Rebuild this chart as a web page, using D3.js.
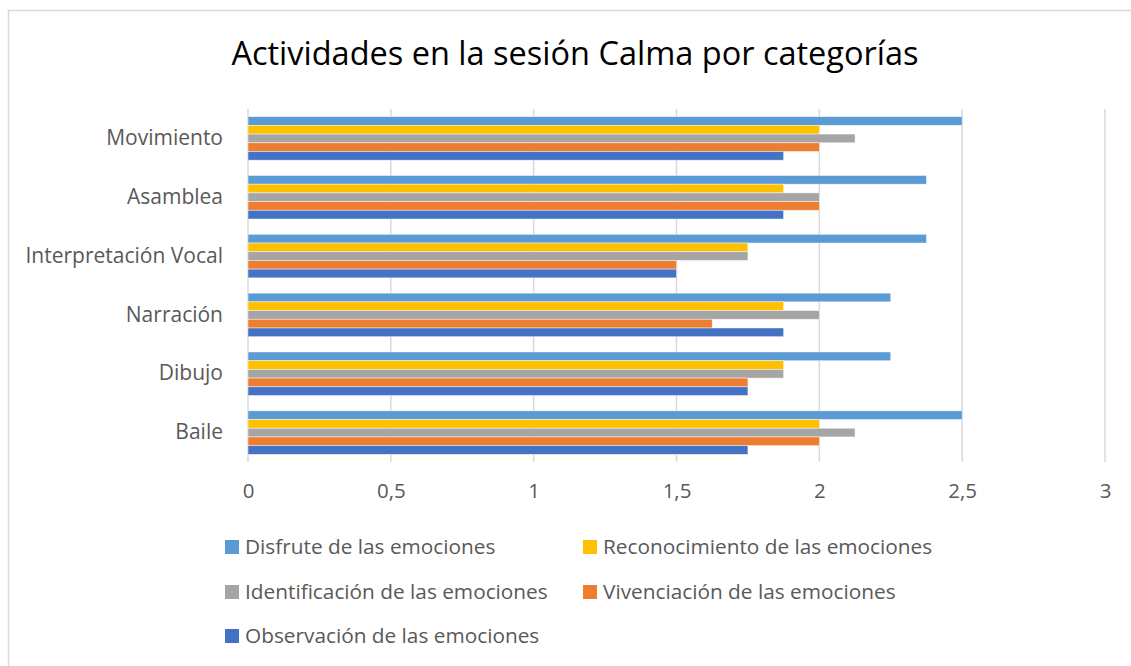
<!DOCTYPE html>
<html>
<head>
<meta charset="utf-8">
<script src="https://cdn.jsdelivr.net/npm/d3@7"></script>
<style>
  body { margin: 0; background: #fff; }
  svg { display: block; font-family: "Open Sans", sans-serif; }
</style>
</head>
<body>
<div id="chart"></div>
<script>
const width = 1131;
const height = 666;

const categories = ["Movimiento", "Asamblea", "Interpretación Vocal", "Narración", "Dibujo", "Baile"];
const seriesNames = [
  "Disfrute de las emociones",
  "Reconocimiento de las emociones",
  "Identificación de las emociones",
  "Vivenciación de las emociones",
  "Observación de las emociones",
];
const disfrute = [2.5, 2.375, 2.375, 2.25, 2.25, 2.5];
const reconocimiento = [2, 1.875, 1.75, 1.875, 1.875, 2];
const identificacion = [2.125, 2, 1.75, 2, 1.875, 2.125];
const vivenciacion = [2, 2, 1.5, 1.625, 1.75, 2];
const observacion = [1.875, 1.875, 1.5, 1.875, 1.75, 1.75];
const xTicks = [0, 0.5, 1, 1.5, 2, 2.5, 3];

const seriesValues = [disfrute, reconocimiento, identificacion, vivenciacion, observacion];
const colors = ["#5B9BD5", "#FFC000", "#A5A5A5", "#ED7D31", "#4472C4"];

const plot = { left: 248, right: 1105, top: 109, bottom: 462 };

const svg = d3.select("#chart").append("svg")
  .attr("width", width)
  .attr("height", height);

// chart frame
svg.append("rect")
  .attr("x", 8.5).attr("y", 10.5)
  .attr("width", width + 20).attr("height", height + 20)
  .attr("fill", "#fff")
  .attr("stroke", "#D9D9D9")
  .attr("stroke-width", 1.5);

svg.append("text")
  .attr("x", 575)
  .attr("y", 65)
  .attr("text-anchor", "middle")
  .attr("font-size", 32.5)
  .attr("fill", "#000")
  .text("Actividades en la sesión Calma por categorías");

const x = d3.scaleLinear().domain([0, 3]).range([plot.left, plot.right]);
const y = d3.scaleBand().domain(categories)
  .range([plot.top, plot.bottom])
  .paddingInner(0.26)
  .paddingOuter(0.13);
const ySub = d3.scaleBand().domain(seriesNames).range([0, y.bandwidth()]);

// gridlines
svg.append("g")
  .selectAll("line")
  .data(xTicks)
  .join("line")
  .attr("x1", (d) => x(d)).attr("x2", (d) => x(d))
  .attr("y1", plot.top).attr("y2", plot.bottom)
  .attr("stroke", "#D9D9D9")
  .attr("stroke-width", 1.5);

// bars
const rows = [];
categories.forEach((c, i) => {
  seriesNames.forEach((s, j) => {
    rows.push({ cat: c, series: s, value: seriesValues[j][i], color: colors[j] });
  });
});

svg.append("g")
  .selectAll("rect")
  .data(rows)
  .join("rect")
  .attr("x", x(0))
  .attr("y", (d) => y(d.cat) + ySub(d.series))
  .attr("width", (d) => x(d.value) - x(0))
  .attr("height", ySub.bandwidth())
  .attr("fill", (d) => d.color)
  .attr("stroke", "#fff")
  .attr("stroke-opacity", 0.6)
  .attr("stroke-width", 0.75);

// x axis labels
const xAxis = svg.append("g")
  .attr("transform", `translate(0,${plot.bottom})`)
  .call(d3.axisBottom(x).tickValues(xTicks).tickSize(0).tickPadding(21)
    .tickFormat((d) => String(d).replace(".", ",")));
xAxis.select(".domain").remove();
xAxis.selectAll("text").attr("font-size", 20.5).attr("fill", "#595959")
  .attr("font-family", "Open Sans, sans-serif");

// y axis labels
const yAxis = svg.append("g")
  .attr("transform", `translate(${plot.left},0)`)
  .call(d3.axisLeft(y).tickSize(0).tickPadding(25));
yAxis.select(".domain").remove();
yAxis.selectAll("text").attr("font-size", 21).attr("fill", "#595959")
  .attr("font-family", "Open Sans, sans-serif");

// legend
const legendPos = [[225, 547], [583, 547], [225, 592], [583, 592], [225, 636]];
const legend = svg.append("g")
  .selectAll("g")
  .data(seriesNames)
  .join("g")
  .attr("transform", (d, i) => `translate(${legendPos[i][0]},${legendPos[i][1]})`);
legend.append("rect")
  .attr("x", 0).attr("y", -7)
  .attr("width", 14).attr("height", 14)
  .attr("fill", (d, i) => colors[i]);
legend.append("text")
  .attr("x", 20)
  .attr("dy", "0.35em")
  .attr("font-size", 20.8)
  .attr("fill", "#595959")
  .text((d) => d);
</script>
</body>
</html>
